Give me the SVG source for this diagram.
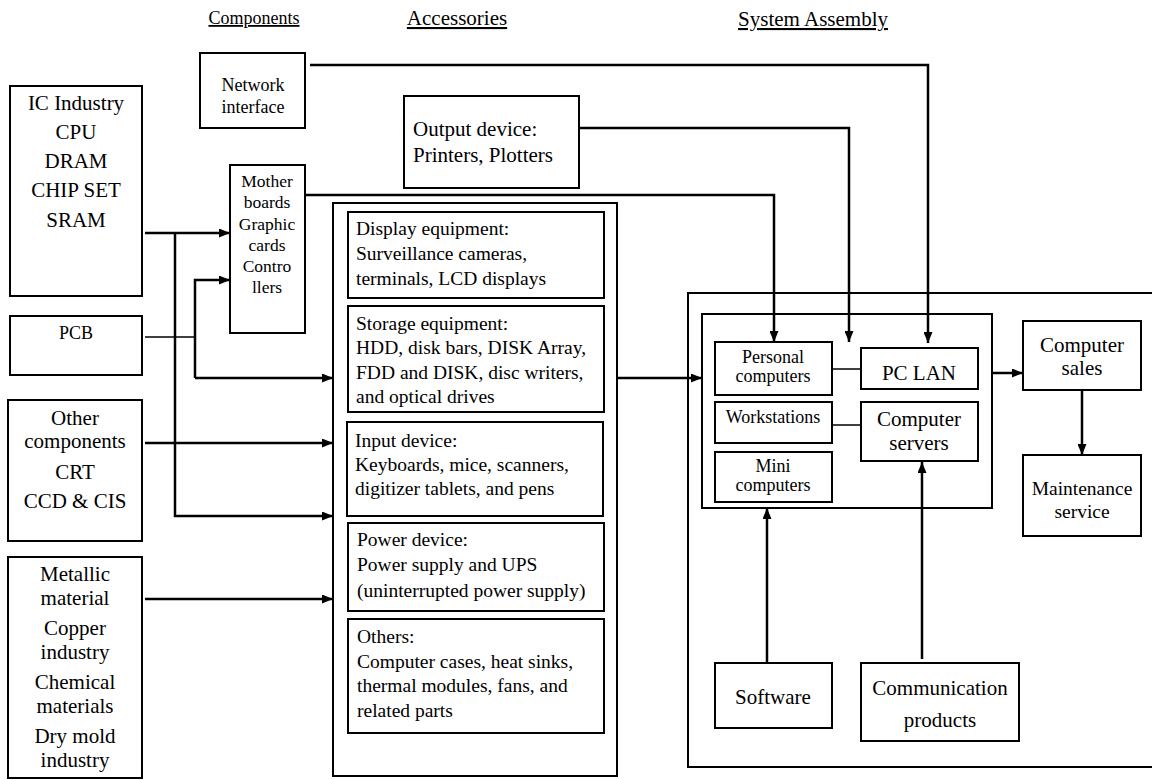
<svg xmlns="http://www.w3.org/2000/svg" width="1152" height="780" viewBox="0 0 1152 780" font-family="'Liberation Serif', 'Times New Roman', serif">
<style>
text{font-family:'Liberation Serif','Times New Roman',serif;fill:#000}
.b{fill:#fff;stroke:#000;stroke-width:2}
.c{text-anchor:middle}
.h{text-decoration:underline}
.a{fill:none;stroke:#000;stroke-width:2.5;marker-end:url(#ar)}
.t{fill:none;stroke:#000;stroke-width:1.5}
.f21{font-size:21px}.f20{font-size:19.5px}.f18{font-size:18px}.f17{font-size:17.5px}
</style>
<defs>
<marker id="ar" markerUnits="userSpaceOnUse" markerWidth="11" markerHeight="9" refX="11" refY="4.5" orient="auto">
<path d="M0,0 L11,4.5 L0,9 z" fill="#000"/>
</marker>
</defs>
<rect width="1152" height="780" fill="#fff"/>
<g id="headers">
<text class="c h f18" x="254" y="24">Components</text>
<text class="c h f21" x="457" y="25">Accessories</text>
<text class="c h f21" x="813" y="26">System Assembly</text>
</g>
<g id="system-assembly-frame"><rect class="b" x="688" y="293" width="470" height="474"/></g>
<g id="accessories-frame"><rect class="b" x="333" y="203" width="284" height="573"/></g>
<g id="ic"><rect class="b" x="10" y="86" width="132" height="210"/>
<text class="c f21" x="76" y="110">IC Industry</text><text class="c f21" x="76" y="139">CPU</text><text class="c f21" x="76" y="168">DRAM</text><text class="c f21" x="76" y="197">CHIP SET</text><text class="c f21" x="76" y="227">SRAM</text></g>
<g id="pcb"><rect class="b" x="10" y="316" width="132" height="59"/><text class="c f18" x="76" y="339">PCB</text></g>
<g id="other"><rect class="b" x="8" y="400" width="134" height="141"/>
<text class="c f21" x="75" y="425">Other</text><text class="c f21" x="75" y="448">components</text><text class="c f21" x="75" y="479">CRT</text><text class="c f21" x="75" y="508">CCD &amp; CIS</text></g>
<g id="metallic"><rect class="b" x="8" y="557" width="134" height="221"/>
<text class="c f21" x="75" y="581">Metallic</text><text class="c f21" x="75" y="605">material</text><text class="c f21" x="75" y="635">Copper</text><text class="c f21" x="75" y="659">industry</text><text class="c f21" x="75" y="689">Chemical</text><text class="c f21" x="75" y="713">materials</text><text class="c f21" x="75" y="743">Dry mold</text><text class="c f21" x="75" y="767">industry</text></g>
<g id="network"><rect class="b" x="200" y="53" width="105" height="75"/><text class="c f18" x="253" y="91">Network</text><text class="c f18" x="253" y="113">interface</text></g>
<g id="mother"><rect class="b" x="230" y="165" width="75" height="168"/>
<text class="c f17" x="267" y="187">Mother</text><text class="c f17" x="267" y="208">boards</text><text class="c f17" x="267" y="230">Graphic</text><text class="c f17" x="267" y="251">cards</text><text class="c f17" x="267" y="272">Contro</text><text class="c f17" x="267" y="293">llers</text></g>
<g id="output"><rect class="b" x="404" y="96" width="175" height="92"/><text class="f21" x="413" y="136">Output device:</text><text class="f21" x="413" y="162">Printers, Plotters</text></g>
<g id="display"><rect class="b" x="348" y="212" width="256" height="86"/><text class="f20" x="356" y="235">Display equipment:</text><text class="f20" x="356" y="260">Surveillance cameras,</text><text class="f20" x="356" y="285">terminals, LCD displays</text></g>
<g id="storage"><rect class="b" x="348" y="306" width="256" height="106"/><text class="f20" x="356" y="330">Storage equipment:</text><text class="f20" x="356" y="354">HDD, disk bars, DISK Array,</text><text class="f20" x="356" y="379">FDD and DISK, disc writers,</text><text class="f20" x="356" y="403">and optical drives</text></g>
<g id="input"><rect class="b" x="347" y="422" width="256" height="94"/><text class="f20" x="355" y="447">Input device:</text><text class="f20" x="355" y="471">Keyboards, mice, scanners,</text><text class="f20" x="355" y="495">digitizer tablets, and pens</text></g>
<g id="power"><rect class="b" x="348" y="523" width="256" height="88"/><text class="f20" x="357" y="546">Power device:</text><text class="f20" x="357" y="571">Power supply and UPS</text><text class="f20" x="357" y="597">(uninterrupted power supply)</text></g>
<g id="others"><rect class="b" x="348" y="619" width="256" height="114"/><text class="f20" x="357" y="643">Others:</text><text class="f20" x="357" y="668">Computer cases, heat sinks,</text><text class="f20" x="357" y="692">thermal modules, fans, and</text><text class="f20" x="357" y="717">related parts</text></g>
<g id="cluster"><rect class="b" x="702" y="314" width="290" height="194"/></g>
<g id="pc"><rect class="b" x="715" y="342" width="117" height="53"/><text class="c f18" x="773" y="363">Personal</text><text class="c f18" x="773" y="382">computers</text></g>
<g id="pclan"><rect class="b" x="861" y="348" width="117" height="41"/><text class="c f21" x="919" y="380">PC LAN</text></g>
<g id="ws"><rect class="b" x="715" y="402" width="117" height="41"/><text class="c f18" x="773" y="423">Workstations</text></g>
<g id="servers"><rect class="b" x="861" y="402" width="117" height="59"/><text class="c f21" x="919" y="426">Computer</text><text class="c f21" x="919" y="450">servers</text></g>
<g id="mini"><rect class="b" x="715" y="452" width="117" height="50"/><text class="c f18" x="773" y="472">Mini</text><text class="c f18" x="773" y="491">computers</text></g>
<g id="sales"><rect class="b" x="1023" y="321" width="118" height="69"/><text class="c f21" x="1082" y="352">Computer</text><text class="c f21" x="1082" y="375">sales</text></g>
<g id="maint"><rect class="b" x="1023" y="455" width="118" height="81"/><text class="c f20" x="1082" y="495">Maintenance</text><text class="c f20" x="1082" y="518">service</text></g>
<g id="software"><rect class="b" x="715" y="663" width="117" height="65"/><text class="c f21" x="773" y="704">Software</text></g>
<g id="comm"><rect class="b" x="861" y="663" width="158" height="78"/><text class="c f21" x="940" y="695">Communication</text><text class="c f21" x="940" y="727">products</text></g>
<g id="connectors">
<path class="a" d="M310,65 L928,65 L928,343"/>
<path class="a" d="M579,128 L849,128 L849,342"/>
<path class="a" d="M305,195 L774,195 L774,342"/>
<path class="a" d="M145,233 L230,233"/>
<path class="a" d="M175,233 L175,516 L333,516"/>
<path class="t" d="M145,337 L195,337"/>
<path class="a" d="M195,378 L195,280 L230,280"/>
<path class="a" d="M195,378 L333,378"/>
<path class="a" d="M145,443 L333,443"/>
<path class="a" d="M145,599 L333,599"/>
<path class="a" d="M617,378 L702,378"/>
<path class="t" d="M832,369 L861,369"/>
<path class="t" d="M832,425 L861,425"/>
<path class="a" d="M992,373 L1023,373"/>
<path class="a" d="M1082,390 L1082,455"/>
<path class="a" d="M767,662 L767,508"/>
<path class="a" d="M922,659 L922,462"/>
</g>
</svg>
